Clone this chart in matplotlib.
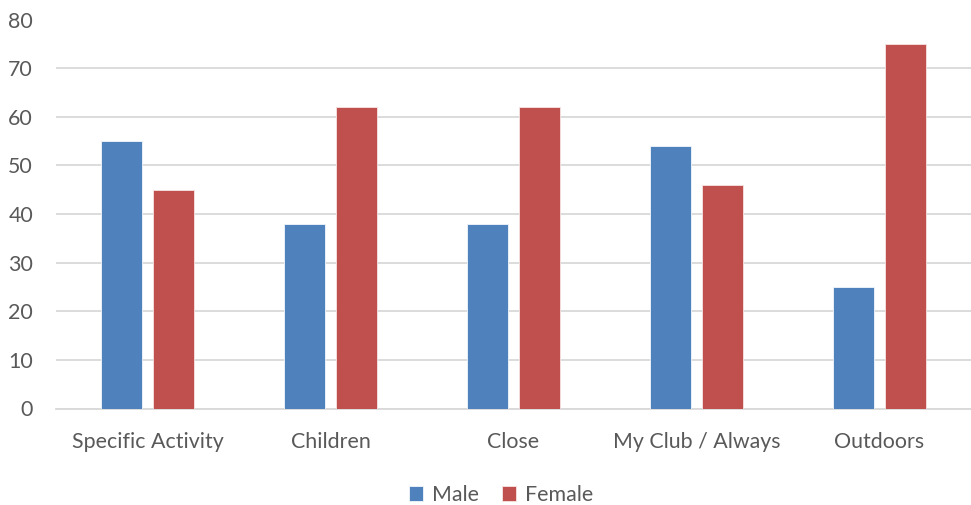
import matplotlib.pyplot as plt
import numpy as np

categories = ["Specific Activity", "Children", "Close", "My Club / Always", "Outdoors"]
male = [55, 38, 38, 54, 25]
female = [45, 62, 62, 46, 75]
yticks = [0, 10, 20, 30, 40, 50, 60, 70, 80]

plt.rcParams['font.family'] = ['Lato', 'DejaVu Sans']

fig = plt.figure(figsize=(9.71, 5.05), dpi=100)
ax = fig.add_axes([56 / 971, 1 - 408.5 / 505, 915 / 971, 389 / 505])

x = np.arange(len(categories))
w = 0.225
off = 0.1425
ax.bar(x - off, male, w, color='#4F81BD', edgecolor='#F2F6FB', linewidth=0.6, label='Male', zorder=3)
ax.bar(x + off, female, w, color='#C0504D', edgecolor='#F6E4E4', linewidth=0.6, label='Female', zorder=3)

ax.set_xlim(-0.5, 4.5)
ax.set_ylim(0, 80)
ax.set_yticks(yticks)
ax.set_xticks(x)
ax.set_xticklabels(categories)
ax.yaxis.grid(True, color='#D9D9D9', linewidth=1.3, zorder=0)
ax.tick_params(axis='both', length=0, labelsize=15.4, colors='#595959')
ax.tick_params(axis='x', pad=17)
ax.tick_params(axis='y', pad=16.5)
for s in ['top', 'right', 'left']:
    ax.spines[s].set_visible(False)
ax.spines['bottom'].set_color('#D9D9D9')
ax.spines['bottom'].set_linewidth(1.3)

leg = fig.legend(loc='center', bbox_to_anchor=(501 / 971, 1 - 495 / 505), ncol=2, frameon=False,
                 fontsize=15.4, handlelength=0.65, handleheight=0.65, handletextpad=0.4,
                 columnspacing=1.1)
for t in leg.get_texts():
    t.set_color('#595959')

fig.savefig('out.png', dpi=100)
